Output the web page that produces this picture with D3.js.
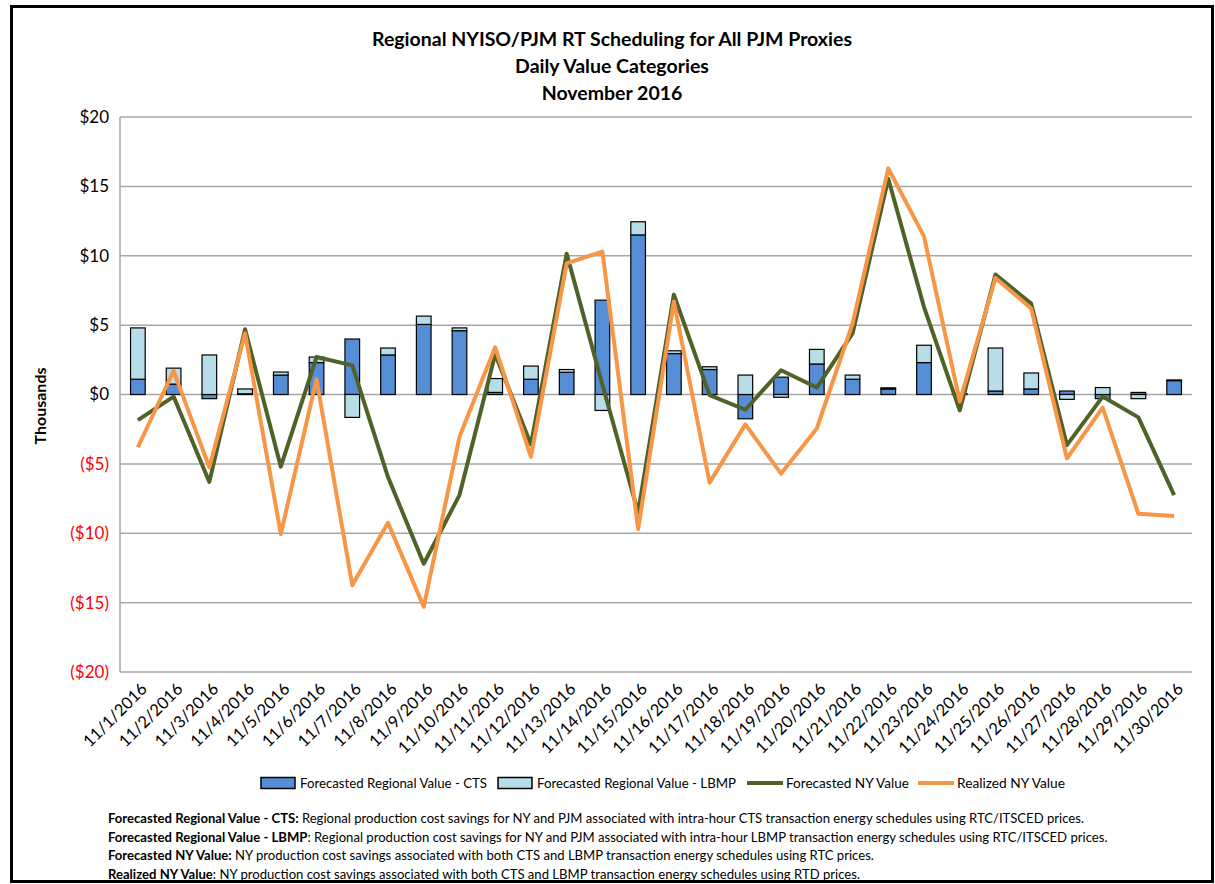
<!DOCTYPE html>
<html>
<head>
<meta charset="utf-8">
<script src="https://cdn.jsdelivr.net/npm/d3@7"></script>
<style>
  body { margin: 0; background: #fff; }
  svg { font-family: Lato, "Open Sans", sans-serif; }
  .grid line { stroke: #a6a6a6; stroke-width: 1.5; }
  .bar { stroke: #000; stroke-width: 1.2; }
</style>
</head>
<body>
<svg width="1215" height="884"></svg>
<script>
// daily values, thousands of $
const days = ["11/1/2016","11/2/2016","11/3/2016","11/4/2016","11/5/2016","11/6/2016","11/7/2016","11/8/2016","11/9/2016","11/10/2016",
  "11/11/2016","11/12/2016","11/13/2016","11/14/2016","11/15/2016","11/16/2016","11/17/2016","11/18/2016","11/19/2016","11/20/2016",
  "11/21/2016","11/22/2016","11/23/2016","11/24/2016","11/25/2016","11/26/2016","11/27/2016","11/28/2016","11/29/2016","11/30/2016"];
const regionalCTS = [1.1, 0.75, -0.3, 0.05, 1.4, 2.3, 4.0, 2.85, 5.05, 4.6, 0.15, 1.1, 1.6, 6.8, 11.5,
  2.95, 1.8, -1.75, 1.25, 2.2, 1.1, 0.4, 2.3, 0.05, 0.25, 0.4, 0.25, -0.3, 0.15, 1.0];
const regionalLBMP = [3.7, 1.15, 2.85, 0.35, 0.22, 0.4, -1.65, 0.5, 0.6, 0.2, 1.0, 0.95, 0.2, -1.15, 0.95,
  0.2, 0.2, 1.4, -0.2, 1.05, 0.3, 0.08, 1.25, 0.0, 3.1, 1.15, -0.35, 0.5, -0.3, 0.05];
const forecastedNY = [-1.85, -0.15, -6.3, 4.7, -5.2, 2.7, 2.1, -5.95, -12.2, -7.25, 2.9, -3.6, 10.15, 0.7, -8.5,
  7.2, -0.05, -1.1, 1.75, 0.5, 4.4, 15.55, 6.3, -1.15, 8.65, 6.55, -3.65, -0.15, -1.65, -7.25];
const realizedNY = [-3.8, 1.7, -5.25, 4.4, -10.05, 1.1, -13.75, -9.25, -15.3, -3.05, 3.4, -4.5, 9.45, 10.3, -9.7,
  6.7, -6.35, -2.15, -5.7, -2.45, 5.1, 16.3, 11.4, -0.5, 8.4, 6.2, -4.6, -0.95, -8.6, -8.75];
const yTicks = [-20, -15, -10, -5, 0, 5, 10, 15, 20];

const titleLines = ["Regional NYISO/PJM RT Scheduling for All PJM Proxies", "Daily Value Categories", "November 2016"];
const legendItems = [
  {label: "Forecasted Regional Value - CTS", kind: "rect", color: "#558ed5"},
  {label: "Forecasted Regional Value - LBMP", kind: "rect", color: "#b7dee8"},
  {label: "Forecasted NY Value", kind: "line", color: "#4f6228"},
  {label: "Realized NY Value", kind: "line", color: "#f79646"}
];
const notes = [
  ["Forecasted Regional Value - CTS:", " Regional production cost savings for NY and PJM associated with intra-hour CTS transaction energy schedules using RTC/ITSCED prices."],
  ["Forecasted Regional Value - LBMP", ": Regional production cost savings for NY and PJM associated with intra-hour LBMP transaction energy schedules using RTC/ITSCED prices."],
  ["Forecasted NY Value:", " NY production cost savings associated with both CTS and LBMP transaction energy schedules using RTC prices."],
  ["Realized NY Value", ": NY production cost savings associated with both CTS and LBMP transaction energy schedules using RTD prices."]
];

const svg = d3.select("svg");
const plot = {left: 120, right: 1192, top: 117, bottom: 672};

// outer frame
svg.append("rect").attr("x", 11.5).attr("y", 6.5).attr("width", 1201).attr("height", 875)
  .attr("fill", "none").attr("stroke", "#000").attr("stroke-width", 3);

const x = d3.scaleBand().domain(days).range([plot.left, plot.right]).paddingInner(0.59).paddingOuter(0.295);
const y = d3.scaleLinear().domain([-20, 20]).range([plot.bottom, plot.top]);

// gridlines
svg.append("g").attr("class", "grid")
  .selectAll("line").data(yTicks).enter().append("line")
  .attr("x1", plot.left).attr("x2", plot.right)
  .attr("y1", d => y(d)).attr("y2", d => y(d));
svg.append("line").attr("x1", plot.left).attr("x2", plot.left).attr("y1", plot.top).attr("y2", plot.bottom)
  .attr("stroke", "#a6a6a6").attr("stroke-width", 1.5);

// y axis labels
const fmt = v => v < 0 ? "($" + Math.abs(v) + ")" : "$" + v;
const yAxis = svg.append("g").attr("transform", `translate(${plot.left - 8},0)`)
  .call(d3.axisLeft(y).tickValues(yTicks).tickFormat(fmt).tickSize(0));
yAxis.select(".domain").remove();
yAxis.selectAll("text").attr("font-size", 17).attr("font-family", "Lato")
  .attr("fill", d => d < 0 ? "#ff0000" : "#000");

svg.append("text").attr("transform", "translate(46,406) rotate(-90)")
  .attr("text-anchor", "middle").attr("font-size", 16).attr("font-weight", "bold").text("Thousands");

// x axis labels
svg.append("g").selectAll("text").data(days).enter().append("text")
  .attr("transform", d => `translate(${x(d) + x.bandwidth() / 2 + 6},686) rotate(-45)`)
  .attr("text-anchor", "end").attr("dy", "0.35em").attr("font-size", 16.5)
  .text(d => d);

// stacked bars
const table = days.map((d, i) => ({day: d, cts: regionalCTS[i], lbmp: regionalLBMP[i]}));
const series = d3.stack().keys(["cts", "lbmp"]).offset(d3.stackOffsetDiverging)(table);
const barColor = {cts: "#558ed5", lbmp: "#b7dee8"};
svg.append("g").selectAll("g").data(series).enter().append("g")
  .attr("fill", s => barColor[s.key])
  .selectAll("rect").data(s => s).enter().append("rect")
  .attr("class", "bar")
  .attr("x", d => x(d.data.day))
  .attr("width", x.bandwidth())
  .attr("y", d => y(Math.max(d[0], d[1])))
  .attr("height", d => Math.abs(y(d[0]) - y(d[1])));

// lines
const line = d3.line().x((v, i) => x(days[i]) + x.bandwidth() / 2).y(v => y(v));
svg.append("path").datum(forecastedNY).attr("d", line)
  .attr("fill", "none").attr("stroke", "#4f6228").attr("stroke-width", 4).attr("stroke-linejoin", "round");
svg.append("path").datum(realizedNY).attr("d", line)
  .attr("fill", "none").attr("stroke", "#f79646").attr("stroke-width", 4).attr("stroke-linejoin", "round");

// title
svg.append("g").selectAll("text").data(titleLines).enter().append("text")
  .attr("x", 612).attr("y", (d, i) => 46 + i * 27)
  .attr("text-anchor", "middle").attr("font-size", 19.5).attr("font-weight", "bold")
  .text(d => d);

// legend (Calibri-like narrow text, so fit each label to its slot)
const legendX = [261, 498, 747, 918];
const legendTextW = [187, 199, 123, 108];
const legend = svg.append("g").selectAll("g").data(legendItems).enter().append("g")
  .attr("transform", (d, i) => `translate(${legendX[i]},783)`);
legend.filter(d => d.kind === "rect").append("rect")
  .attr("x", 0).attr("y", -5.5).attr("width", 34).attr("height", 11)
  .attr("fill", d => d.color).attr("stroke", "#000").attr("stroke-width", 1.5);
legend.filter(d => d.kind === "line").append("line")
  .attr("x1", 0).attr("x2", 36).attr("y1", 0).attr("y2", 0)
  .attr("stroke", d => d.color).attr("stroke-width", 4);
legend.append("text").attr("x", 39).attr("dy", "0.35em").attr("font-size", 14)
  .attr("textLength", (d, i) => legendTextW[i]).attr("lengthAdjust", "spacingAndGlyphs")
  .text(d => d.label);

// footnotes
const noteText = svg.append("g").selectAll("text").data(notes).enter().append("text")
  .attr("x", 108).attr("y", (d, i) => 823 + i * 18.5).attr("font-size", 13.1);
noteText.append("tspan").attr("font-weight", "bold").text(d => d[0]);
noteText.append("tspan").text(d => d[1]);
</script>
</body>
</html>
